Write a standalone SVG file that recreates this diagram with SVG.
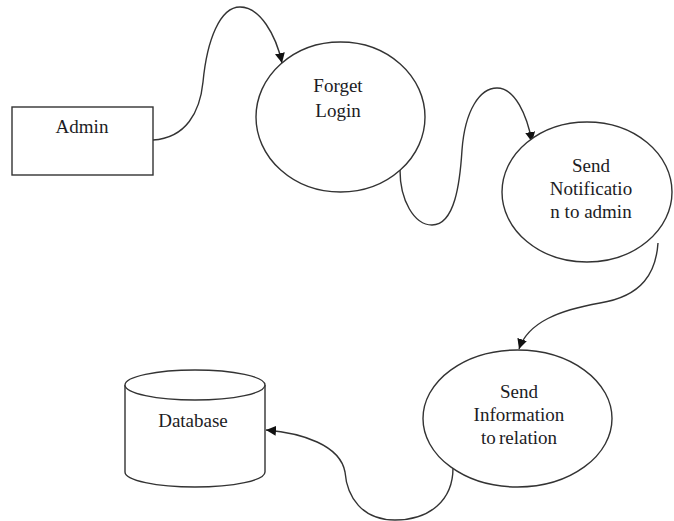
<svg xmlns="http://www.w3.org/2000/svg" width="674" height="521" viewBox="0 0 674 521">
<defs>
<marker id="arr" viewBox="0 0 10 10" refX="10" refY="5" markerWidth="10" markerHeight="10" markerUnits="userSpaceOnUse" orient="auto">
<path d="M0,0 L10,5 L0,10 z" fill="#111"/>
</marker>
<style>
.shape{fill:#fff;stroke:#333;stroke-width:1.4}
.lbl{font-family:"Liberation Serif","Times New Roman",serif;font-size:19px;fill:#1c1c24;text-anchor:middle}
.conn{fill:none;stroke:#333;stroke-width:1.4;marker-end:url(#arr)}
</style>
</defs>
<rect width="674" height="521" fill="#fff"/>
<g id="connectors">
<path class="conn" d="M153,140 C186,138 200,112 203,82 C207,40 220,7 240,7 C260,7 276,35 282,63"/>
<path class="conn" d="M400,170 C400,200 414,225 432,225 C455,225 460,182 462,150 C465,110 480,88 497,88 C515,88 527,115 532,142"/>
<path class="conn" d="M658,243 C656,272 643,296 600,303 C560,310 528,322 519,349"/>
<path class="conn" d="M453,468 C453,500 430,520 395,520 C362,520 347,497 345,472 C340,445 302,433 266,430"/>
</g>
<g id="admin">
<rect class="shape" x="12" y="107" width="141" height="68"/>
<text class="lbl" x="82" y="133">Admin</text>
</g>
<g id="forget-login">
<ellipse class="shape" cx="340.5" cy="117" rx="84.5" ry="75"/>
<text class="lbl" x="338" y="92">Forget</text>
<text class="lbl" x="338" y="117">Login</text>
</g>
<g id="send-notification">
<ellipse class="shape" cx="587" cy="192" rx="85" ry="70"/>
<text class="lbl" x="591" y="172">Send</text>
<text class="lbl" x="591" y="195">Notificatio</text>
<text class="lbl" x="591" y="218">n to admin</text>
</g>
<g id="send-information">
<ellipse class="shape" cx="517.5" cy="418.5" rx="94.5" ry="68.5"/>
<text class="lbl" x="519" y="398">Send</text>
<text class="lbl" x="519" y="421">Information</text>
<text class="lbl" x="519" y="444" word-spacing="-1.5">to relation</text>
</g>
<g id="database">
<path class="shape" d="M125,385 L125,472 A70,15 0 0 0 265,472 L265,385"/>
<ellipse class="shape" cx="195" cy="385" rx="70" ry="15"/>
<text class="lbl" x="193" y="427">Database</text>
</g>
</svg>
